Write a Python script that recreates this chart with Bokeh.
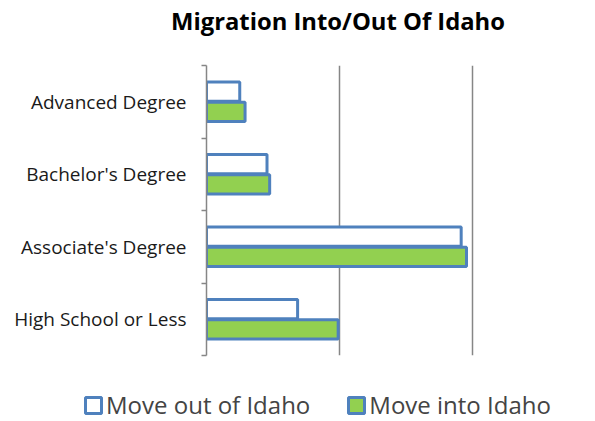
from bokeh.plotting import figure
from bokeh.layouts import column
from bokeh.models import Range1d, FixedTicker, Legend, LegendItem, Label, ColumnDataSource
from bokeh.embed import file_html
from bokeh.resources import INLINE

categories = ["High School or Less", "Associate's Degree", "Bachelor's Degree", "Advanced Degree"]
move_out = [685, 1915, 455, 250]
move_in = [990, 1955, 475, 290]
grid_ticks = [1000, 2000]
series_names = ["Move out of Idaho", "Move into Idaho"]
title_text = "Migration Into/Out Of Idaho"

FONT = "Open Sans"
BLUE = "#4F81BD"
GREEN = "#92D050"
GRAY = "#868686"


def strip(height, xmax, ymax):
    f = figure(width=595, height=height, output_backend="svg", toolbar_location=None,
               x_range=Range1d(0, xmax), y_range=Range1d(0, ymax),
               min_border_left=0, min_border_right=0, min_border_top=0, min_border_bottom=0)
    f.frame_align = False
    f.axis.visible = False
    f.grid.visible = False
    f.outline_line_color = None
    return f


# title strip
t = strip(45, 595, 45)
t.add_layout(Label(x=337.5, y=25, text=title_text, text_align="center", text_baseline="middle",
                   text_font=FONT, text_font_size="23.8px", text_font_style="bold",
                   text_color="black"))

ypos = [i + 0.5 for i in range(len(categories))]
src_out = ColumnDataSource(dict(y=[v + 0.14 for v in ypos], right=move_out))
src_in = ColumnDataSource(dict(y=[v - 0.14 for v in ypos], right=move_in))

p = figure(width=595, height=330, output_backend="svg", toolbar_location=None,
           x_range=Range1d(0, 2925), y_range=Range1d(0, len(categories)),
           min_border_left=206, min_border_right=0, min_border_top=20, min_border_bottom=20)
p.frame_align = False
p.outline_line_color = None
p.background_fill_color = "white"
p.border_fill_color = "white"

p.hbar(y="y", right="right", left=0, height=0.265, source=src_out,
       fill_color="white", line_color=BLUE, line_width=3)
p.hbar(y="y", right="right", left=0, height=0.265, source=src_in,
       fill_color=GREEN, line_color=BLUE, line_width=3)

p.xaxis.visible = False
p.xgrid.ticker = FixedTicker(ticks=grid_ticks)
p.xgrid.grid_line_color = GRAY
p.xgrid.grid_line_width = 1.5
p.ygrid.grid_line_color = None

yax = p.yaxis[0]
yax.ticker = FixedTicker(ticks=ypos, minor_ticks=[0, 1, 2, 3, 4])
yax.major_label_overrides = {v: c for v, c in zip(ypos, categories)}
yax.major_tick_line_color = None
yax.major_tick_out = 0
yax.major_tick_in = 0
yax.minor_tick_out = 5
yax.minor_tick_in = 0
yax.minor_tick_line_color = GRAY
yax.minor_tick_line_width = 1.5
yax.axis_line_color = GRAY
yax.axis_line_width = 1.5
yax.major_label_standoff = 15
yax.major_label_text_font = FONT
yax.major_label_text_font_size = "19px"
yax.major_label_text_color = "#1a1a1a"

# legend strip (legend keys use series styling; no data drawn here)
q = strip(46, 1, 1)
nodata = ColumnDataSource(dict(y=[float("nan")], left=[float("nan")], right=[float("nan")]))
k_out = q.hbar(y="y", right="right", left="left", height=0.5, source=nodata,
               fill_color="white", line_color=BLUE, line_width=3)
k_in = q.hbar(y="y", right="right", left="left", height=0.5, source=nodata,
              fill_color=GREEN, line_color=BLUE, line_width=3)
legend = Legend(items=[LegendItem(label=series_names[0], renderers=[k_out]),
                       LegendItem(label=series_names[1], renderers=[k_in])],
                orientation="horizontal", location=(83, 0), padding=0, margin=0,
                label_text_font=FONT, label_text_font_size="24px",
                glyph_width=20, glyph_height=20, spacing=36, label_standoff=3,
                border_line_color=None, background_fill_alpha=0)
q.add_layout(legend, "center")

open("out.html", "w").write(file_html(column(t, p, q, spacing=0), INLINE))
